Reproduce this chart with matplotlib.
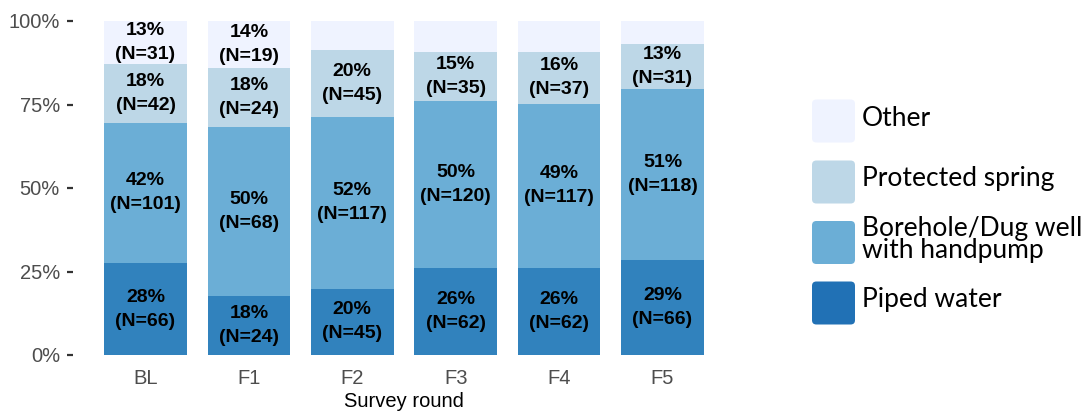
import numpy as np
import matplotlib
matplotlib.use("Agg")
import matplotlib.pyplot as plt
from matplotlib.patches import FancyBboxPatch

# ---------------------------------------------------------
# data (counts per water source, by survey round)
# ---------------------------------------------------------
rounds = ['BL', 'F1', 'F2', 'F3', 'F4', 'F5']
categories = ['Piped water', 'Borehole/Dug well\nwith handpump',
              'Protected spring', 'Other']

piped = [66, 24, 45, 62, 62, 66]
borehole = [101, 68, 117, 120, 117, 118]
spring = [42, 24, 45, 35, 37, 31]
other = [31, 19, 20, 22, 22, 16]

bar_colors = ['#3182bd', '#6baed6', '#bdd7e7', '#eff3ff']
legend_colors = ['#2171b5', '#6baed6', '#bdd7e7', '#eff3ff']

counts = np.array([piped, borehole, spring, other], dtype=float)
shares = counts / counts.sum(axis=0)

# ---------------------------------------------------------
# figure
# ---------------------------------------------------------
W, H = 1088, 412
fig = plt.figure(figsize=(W / 100, H / 100), dpi=100)

# panel placed in pixel units
left, right, top, bottom = 83.5, 724.5, 21, 355
ax = fig.add_axes([left / W, 1 - bottom / H, (right - left) / W, (bottom - top) / H])

x = np.arange(len(rounds))
base = np.zeros(len(rounds))
for k in range(len(categories)):
    ax.bar(x, shares[k], bottom=base, width=0.8, color=bar_colors[k],
           edgecolor='none', zorder=2)
    for i in range(len(rounds)):
        pct = shares[k, i] * 100
        if pct >= 10:
            ax.text(x[i], base[i] + shares[k, i] / 2,
                    f"{round(pct):d}%\n(N={int(counts[k, i])})",
                    ha='center', va='center', fontsize=14, fontweight='bold',
                    family='Liberation Sans', color='black',
                    linespacing=1.55, zorder=3)
    base += shares[k]

ax.set_xlim(-0.6, len(rounds) - 0.4)
ax.set_ylim(0, 1)

for s in ax.spines.values():
    s.set_visible(False)
ax.spines['left'].set_position(('outward', 7.5))

ax.set_yticks([0, 0.25, 0.5, 0.75, 1.0])
ax.set_yticklabels(['0%', '25%', '50%', '75%', '100%'])
ax.set_xticks(x)
ax.set_xticklabels(rounds)
ax.tick_params(axis='y', length=4.5, width=1.6, color='#333333', pad=5,
               labelsize=14.5, labelcolor='#4d4d4d')
ax.tick_params(axis='x', length=0, pad=10, labelsize=14.5, labelcolor='#4d4d4d')
for lab in ax.get_xticklabels() + ax.get_yticklabels():
    lab.set_family('Liberation Sans')

ax.set_xlabel('Survey round', fontsize=14.5, family='Liberation Sans',
              color='black', labelpad=3.2)

# ---------------------------------------------------------
# legend (top -> bottom: Other, Protected spring, Borehole, Piped)
# ---------------------------------------------------------
item_y = [121, 182, 242.5, 303]
order = [3, 2, 1, 0]
sq = 43
for yc, k in zip(item_y, order):
    patch = FancyBboxPatch(((812) / W, 1 - (yc + sq / 2) / H), sq / W, sq / H,
                           boxstyle='round,pad=0,rounding_size=0.004',
                           transform=fig.transFigure, facecolor=legend_colors[k],
                           edgecolor='none', mutation_aspect=W / H)
    fig.patches.append(patch)
    fig.text(862 / W, 1 - (yc - 3) / H, categories[k], ha='left', va='center',
             fontsize=19, family='Lato', color='black', linespacing=0.87)

fig.savefig('out.png', dpi=100)
